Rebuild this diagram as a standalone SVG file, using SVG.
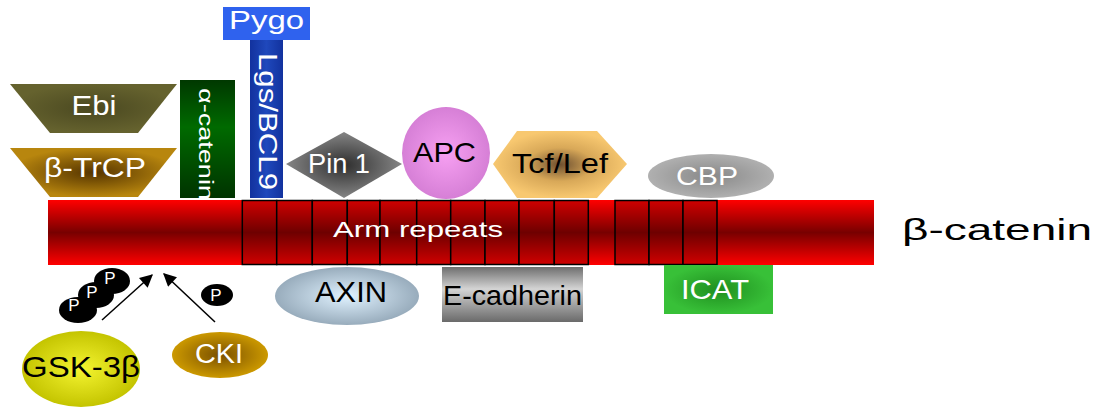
<svg xmlns="http://www.w3.org/2000/svg" width="1099" height="407" viewBox="0 0 1099 407">
<defs>
<style>
text{font-family:"Liberation Sans",Arial,sans-serif;}
.w{fill:#ffffff;}
.b{fill:#000000;}
.box{stroke:#000;stroke-width:1.5;fill:url(#boxg);}
.p{fill:#000;}
.pt{fill:#fff;font-size:17px;}
</style>
<linearGradient id="barg" x1="0" y1="0" x2="0" y2="1">
<stop offset="0" stop-color="#ff0000"/><stop offset="0.5" stop-color="#780000"/><stop offset="1" stop-color="#ff0000"/>
</linearGradient>
<linearGradient id="boxg" x1="0" y1="0" x2="0" y2="1">
<stop offset="0" stop-color="#d00000"/><stop offset="0.5" stop-color="#6e0000"/><stop offset="1" stop-color="#d00000"/>
</linearGradient>
<linearGradient id="lgsg" x1="0" y1="0" x2="1" y2="0">
<stop offset="0" stop-color="#12329e"/><stop offset="0.5" stop-color="#1f48bc"/><stop offset="1" stop-color="#12329e"/>
</linearGradient>
<linearGradient id="alg" x1="0" y1="0" x2="0" y2="1">
<stop offset="0" stop-color="#003800"/><stop offset="0.4" stop-color="#006a00"/><stop offset="1" stop-color="#003300"/>
</linearGradient>
<linearGradient id="ecg" x1="0" y1="0" x2="0" y2="1">
<stop offset="0" stop-color="#6e6e6e"/><stop offset="0.4" stop-color="#d4d4d4"/><stop offset="1" stop-color="#6a6a6a"/>
</linearGradient>
<radialGradient id="ebig"><stop offset="0" stop-color="#4a4820"/><stop offset="1" stop-color="#65622e"/></radialGradient>
<radialGradient id="trg"><stop offset="0" stop-color="#553400"/><stop offset="1" stop-color="#b8860e"/></radialGradient>
<radialGradient id="ping"><stop offset="0" stop-color="#2e2e2e"/><stop offset="1" stop-color="#858585"/></radialGradient>
<radialGradient id="apcg"><stop offset="0" stop-color="#f7a0f2"/><stop offset="1" stop-color="#d67fd6"/></radialGradient>
<radialGradient id="tcfg"><stop offset="0" stop-color="#6e5030"/><stop offset="0.5" stop-color="#d8a858"/><stop offset="1" stop-color="#f8c870"/></radialGradient>
<radialGradient id="cbpg"><stop offset="0" stop-color="#888888"/><stop offset="1" stop-color="#b0b0b0"/></radialGradient>
<radialGradient id="icatg"><stop offset="0" stop-color="#1f8f1f"/><stop offset="1" stop-color="#38c038"/></radialGradient>
<radialGradient id="axg"><stop offset="0" stop-color="#e0f2ff"/><stop offset="1" stop-color="#98acbc"/></radialGradient>
<radialGradient id="gskg"><stop offset="0" stop-color="#f4f430"/><stop offset="1" stop-color="#c4c400"/></radialGradient>
<radialGradient id="ckig"><stop offset="0" stop-color="#7a5000"/><stop offset="1" stop-color="#cc9900"/></radialGradient>
<marker id="ah" viewBox="0 0 10 10" refX="9" refY="5" markerWidth="15" markerHeight="13" markerUnits="userSpaceOnUse" orient="auto">
<path d="M0,0 L10,5 L0,10 z" fill="#000"/>
</marker>
</defs>
<rect width="1099" height="407" fill="#ffffff"/>

<g id="pygo">
<rect x="223" y="7" width="87" height="33" fill="#2f62ee"/>
<text class="w" x="266.5" y="29" font-size="25" text-anchor="middle" textLength="75" lengthAdjust="spacingAndGlyphs">Pygo</text>
</g>
<g id="lgs-bcl9">
<rect x="250" y="40" width="33" height="158" fill="url(#lgsg)"/>
<text class="w" transform="translate(259,53) rotate(90)" font-size="25" textLength="137" lengthAdjust="spacingAndGlyphs">Lgs/BCL9</text>
</g>
<g id="alpha-catenin">
<rect x="180" y="80" width="55" height="118" fill="url(#alg)"/>
<text class="w" transform="translate(199,88) rotate(90)" font-size="21" textLength="112" lengthAdjust="spacingAndGlyphs">α-catenin</text>
</g>
<g id="ebi">
<polygon points="10,84 177,84 138,133 50,133" fill="url(#ebig)"/>
<text class="w" x="94" y="115" font-size="28" text-anchor="middle" textLength="45" lengthAdjust="spacingAndGlyphs">Ebi</text>
</g>
<g id="beta-trcp">
<polygon points="10,148 177,148 138,197 50,197" fill="url(#trg)"/>
<text class="w" x="95" y="177" font-size="27" text-anchor="middle" textLength="102" lengthAdjust="spacingAndGlyphs">β-TrCP</text>
</g>
<g id="pin1">
<polygon points="286,164 344,132 402,164 344,198" fill="url(#ping)"/>
<text class="w" x="339" y="173" font-size="27" text-anchor="middle" textLength="62" lengthAdjust="spacingAndGlyphs">Pin 1</text>
</g>
<g id="apc">
<ellipse cx="446" cy="153" rx="44" ry="46" fill="url(#apcg)"/>
<text class="b" x="444.5" y="162" font-size="28" text-anchor="middle" textLength="63" lengthAdjust="spacingAndGlyphs">APC</text>
</g>
<g id="tcf-lef">
<polygon points="493,164 517,131 597,131 627,164 597,198 517,198" fill="url(#tcfg)"/>
<text class="b" x="560" y="173" font-size="28" text-anchor="middle" textLength="96" lengthAdjust="spacingAndGlyphs">Tcf/Lef</text>
</g>
<g id="cbp">
<ellipse cx="711" cy="176" rx="63" ry="22" fill="url(#cbpg)"/>
<text class="w" x="707" y="185" font-size="26" text-anchor="middle" textLength="62" lengthAdjust="spacingAndGlyphs">CBP</text>
</g>

<g id="beta-catenin">
<rect x="48" y="200" width="826" height="65" fill="url(#barg)"/>
<rect class="box" x="242.3" y="200.5" width="34.4" height="64"/>
<rect class="box" x="276.7" y="200.5" width="35.6" height="64"/>
<rect class="box" x="312.3" y="200.5" width="35" height="64"/>
<rect class="box" x="347.3" y="200.5" width="32.7" height="64"/>
<rect class="box" x="380" y="200.5" width="36.7" height="64"/>
<rect class="box" x="416.7" y="200.5" width="34" height="64"/>
<rect class="box" x="450.7" y="200.5" width="34.3" height="64"/>
<rect class="box" x="485" y="200.5" width="34" height="64"/>
<rect class="box" x="519" y="200.5" width="35.3" height="64"/>
<rect class="box" x="554.3" y="200.5" width="34" height="64"/>
<rect class="box" x="615" y="200.5" width="34" height="64"/>
<rect class="box" x="649" y="200.5" width="34" height="64"/>
<rect class="box" x="683" y="200.5" width="34" height="64"/>
<text class="w" x="333" y="237" font-size="22" textLength="170" lengthAdjust="spacingAndGlyphs">Arm repeats</text>
<text class="b" x="902" y="240" font-size="30" font-family="'DejaVu Sans',sans-serif" textLength="190" lengthAdjust="spacingAndGlyphs">β-catenin</text>
</g>

<g id="icat">
<rect x="664" y="265" width="109" height="49" fill="url(#icatg)"/>
<text class="w" x="715" y="299" font-size="28" text-anchor="middle" textLength="68" lengthAdjust="spacingAndGlyphs">ICAT</text>
</g>
<g id="axin">
<ellipse cx="347" cy="296" rx="72" ry="29" fill="url(#axg)"/>
<text class="b" x="351" y="302" font-size="29" text-anchor="middle" textLength="72" lengthAdjust="spacingAndGlyphs">AXIN</text>
</g>
<g id="e-cadherin">
<rect x="442" y="267" width="141" height="55" fill="url(#ecg)"/>
<text class="b" x="512.5" y="305" font-size="27" text-anchor="middle" textLength="139" lengthAdjust="spacingAndGlyphs">E-cadherin</text>
</g>
<g id="gsk3b">
<ellipse cx="81" cy="369" rx="59" ry="38" fill="url(#gskg)"/>
<text class="b" x="81" y="377" font-size="30" text-anchor="middle" textLength="118" lengthAdjust="spacingAndGlyphs">GSK-3β</text>
</g>
<g id="cki">
<ellipse cx="220" cy="355" rx="48" ry="23" fill="url(#ckig)"/>
<text class="w" x="219" y="363" font-size="27" text-anchor="middle" textLength="48" lengthAdjust="spacingAndGlyphs">CKI</text>
</g>
<g id="phosphates">
<ellipse class="p" cx="78" cy="310" rx="19" ry="13"/>
<ellipse class="p" cx="96" cy="295" rx="18" ry="13"/>
<ellipse class="p" cx="112" cy="281" rx="18" ry="13"/>
<text class="pt" x="74" y="311" text-anchor="middle">P</text>
<text class="pt" x="92" y="298" text-anchor="middle">P</text>
<text class="pt" x="110" y="284" text-anchor="middle">P</text>
<ellipse class="p" cx="217" cy="295" rx="16" ry="11"/>
<text class="pt" x="216" y="301" text-anchor="middle">P</text>
</g>

<g id="connectors" stroke="#000" stroke-width="1.5" fill="none">
<line x1="102" y1="320" x2="152" y2="275" marker-end="url(#ah)"/>
<line x1="215" y1="322" x2="164" y2="274" marker-end="url(#ah)"/>
</g>
</svg>
